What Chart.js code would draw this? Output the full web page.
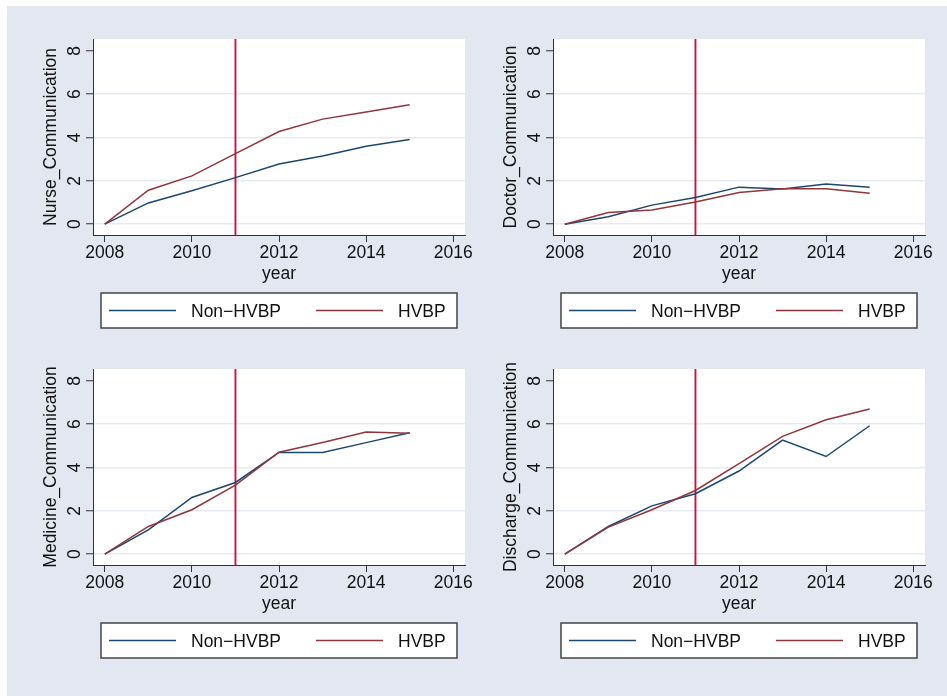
<!DOCTYPE html>
<html><head><meta charset="utf-8">
<script src="https://cdn.jsdelivr.net/npm/chart.js@4.4.0/dist/chart.umd.min.js"></script>
<style>
html,body{margin:0;padding:0;background:#fff;overflow:hidden;width:947px;height:696px;}
#bg{position:absolute;left:7px;top:6px;width:940px;height:690px;background:#E2E7F1;}
canvas{position:absolute;}
</style></head><body>
<div id="bg"></div>
<canvas id="c1" width="480" height="340" style="left:0px;top:0px"></canvas>
<canvas id="c2" width="487" height="340" style="left:460px;top:0px"></canvas>
<canvas id="c3" width="480" height="340" style="left:0px;top:330px"></canvas>
<canvas id="c4" width="487" height="340" style="left:460px;top:330px"></canvas>
<script>
// ---- data ----
const years = [2008, 2009, 2010, 2011, 2012, 2013, 2014, 2015];
const seriesNames = ['Non\u2212HVBP', 'HVBP'];
const xTicks = [2008, 2010, 2012, 2014, 2016];
const yTicks = [0, 2, 4, 6, 8];
const refYear = 2011;
const xTitle = 'year';
const yTitles = ['Nurse_Communication', 'Doctor_Communication', 'Medicine_Communication', 'Discharge_Communication'];

const nurseNon = [0, 0.98, 1.54, 2.15, 2.78, 3.15, 3.60, 3.91];
const nurseHV  = [0, 1.57, 2.23, 3.26, 4.28, 4.85, 5.18, 5.51];
const doctorNon = [0, 0.34, 0.88, 1.23, 1.71, 1.62, 1.86, 1.71];
const doctorHV  = [0, 0.54, 0.65, 1.02, 1.46, 1.63, 1.63, 1.43];
const medNon = [0, 1.12, 2.62, 3.31, 4.70, 4.70, 5.15, 5.61];
const medHV  = [0, 1.28, 2.05, 3.19, 4.71, 5.16, 5.64, 5.58];
const disNon = [0, 1.28, 2.23, 2.79, 3.84, 5.27, 4.51, 5.93];
const disHV  = [0, 1.25, 2.05, 2.94, 4.18, 5.44, 6.21, 6.70];

// ---- style ----
const X_MIN = 2007.73, X_MAX = 2016.27, Y_MIN = -0.5, Y_MAX = 8.55;
const NAVY = '#1A476F', MAROON = '#90353B', RED = '#CC1440';
const TXT = '#111111', AXIS = '#333333', GRID = '#E6EBF3';
const FAMILY = '"Liberation Sans", Arial, Helvetica, sans-serif';
const FONT = {family: FAMILY, size: 17.5, lineHeight: 1};
const seriesColors = [NAVY, MAROON];

const panelPlugin = {
  id: 'panel',
  beforeDraw(chart) {
    const {ctx, chartArea: a} = chart;
    ctx.save();
    ctx.fillStyle = '#ffffff';
    ctx.fillRect(a.left, a.top, a.right - a.left, a.bottom - a.top);
    ctx.restore();
  },
  afterDraw(chart) {
    const {ctx, chartArea: a} = chart;
    const ys = chart.scales.y;
    ctx.save();
    ctx.font = '17.5px ' + FAMILY;
    ctx.fillStyle = TXT;
    // rotated y tick labels (Stata style)
    yTicks.forEach(v => {
      const py = ys.getPixelForValue(v);
      ctx.save();
      ctx.translate(a.left - 13, py);
      ctx.rotate(-Math.PI / 2);
      ctx.textAlign = 'center';
      ctx.textBaseline = 'alphabetic';
      ctx.fillText(String(v), 0, 0);
      ctx.restore();
    });
    // legend box
    const cx = (a.left + a.right) / 2;
    const bl = cx - 178, bt = 293, bw = 356, bh = 35;
    ctx.fillStyle = '#ffffff';
    ctx.fillRect(bl, bt, bw, bh);
    ctx.strokeStyle = '#444444';
    ctx.lineWidth = 1.5;
    ctx.strokeRect(bl, bt, bw, bh);
    seriesNames.forEach((name, i) => {
      const off = i * 207;
      ctx.strokeStyle = seriesColors[i];
      ctx.lineWidth = 1.5;
      ctx.beginPath();
      ctx.moveTo(bl + 8 + off, bt + 17.5);
      ctx.lineTo(bl + 75 + off, bt + 17.5);
      ctx.stroke();
      ctx.fillStyle = TXT;
      ctx.textAlign = 'left';
      ctx.textBaseline = 'alphabetic';
      ctx.fillText(name, bl + 90 + off, bt + 24.3);
    });
    ctx.restore();
  }
};

function makeChart(id, title, non, hv) {
  const canvas = document.getElementById(id);
  const W = canvas.width;
  return new Chart(canvas, {
    type: 'line',
    data: {
      datasets: [
        {label: seriesNames[0], data: years.map((yr, i) => ({x: yr, y: non[i]})),
         borderColor: NAVY, borderWidth: 1.5, pointRadius: 0, tension: 0, fill: false, order: 2},
        {label: seriesNames[1], data: years.map((yr, i) => ({x: yr, y: hv[i]})),
         borderColor: MAROON, borderWidth: 1.5, pointRadius: 0, tension: 0, fill: false, order: 1},
        {label: 'ref', data: [{x: refYear, y: Y_MIN}, {x: refYear, y: Y_MAX}],
         borderColor: RED, borderWidth: 1.9, pointRadius: 0, tension: 0, fill: false, order: 3}
      ]
    },
    options: {
      responsive: false,
      animation: false,
      events: [],
      layout: {padding: {left: 0, top: 39, right: W - 465, bottom: 55}},
      plugins: {legend: {display: false}, tooltip: {enabled: false}},
      scales: {
        x: {
          type: 'linear', min: X_MIN, max: X_MAX,
          afterBuildTicks: s => { s.ticks = xTicks.map(v => ({value: v})); },
          afterFit: s => { s.height = 50; s.paddingLeft = 0; s.paddingRight = 0; },
          grid: {drawOnChartArea: false, drawTicks: true, tickLength: 7, tickColor: AXIS, tickWidth: 1, color: AXIS},
          border: {display: true, color: AXIS, width: 1},
          ticks: {padding: 2.7, color: TXT, font: FONT, maxRotation: 0, minRotation: 0, autoSkip: false,
                  callback: v => String(v)},
          title: {display: true, text: xTitle, color: TXT, font: FONT, padding: {top: 0, bottom: 1.75}}
        },
        y: {
          type: 'linear', min: Y_MIN, max: Y_MAX,
          afterBuildTicks: s => { s.ticks = yTicks.map(v => ({value: v})); },
          afterFit: s => { s.width = 93; s.paddingTop = 0; s.paddingBottom = 0; },
          grid: {
            color: c => (c.tick && c.tick.value === 8) ? 'rgba(0,0,0,0)' : GRID,
            lineWidth: 1.5, drawTicks: true, tickLength: 7, tickColor: AXIS, tickWidth: 1
          },
          border: {display: true, color: AXIS, width: 1},
          ticks: {display: false},
          title: {display: true, text: title, color: TXT, font: FONT, padding: {top: 42.25, bottom: 0}}
        }
      }
    },
    plugins: [panelPlugin]
  });
}

makeChart('c1', yTitles[0], nurseNon, nurseHV);
makeChart('c2', yTitles[1], doctorNon, doctorHV);
makeChart('c3', yTitles[2], medNon, medHV);
makeChart('c4', yTitles[3], disNon, disHV);
</script>
</body></html>
